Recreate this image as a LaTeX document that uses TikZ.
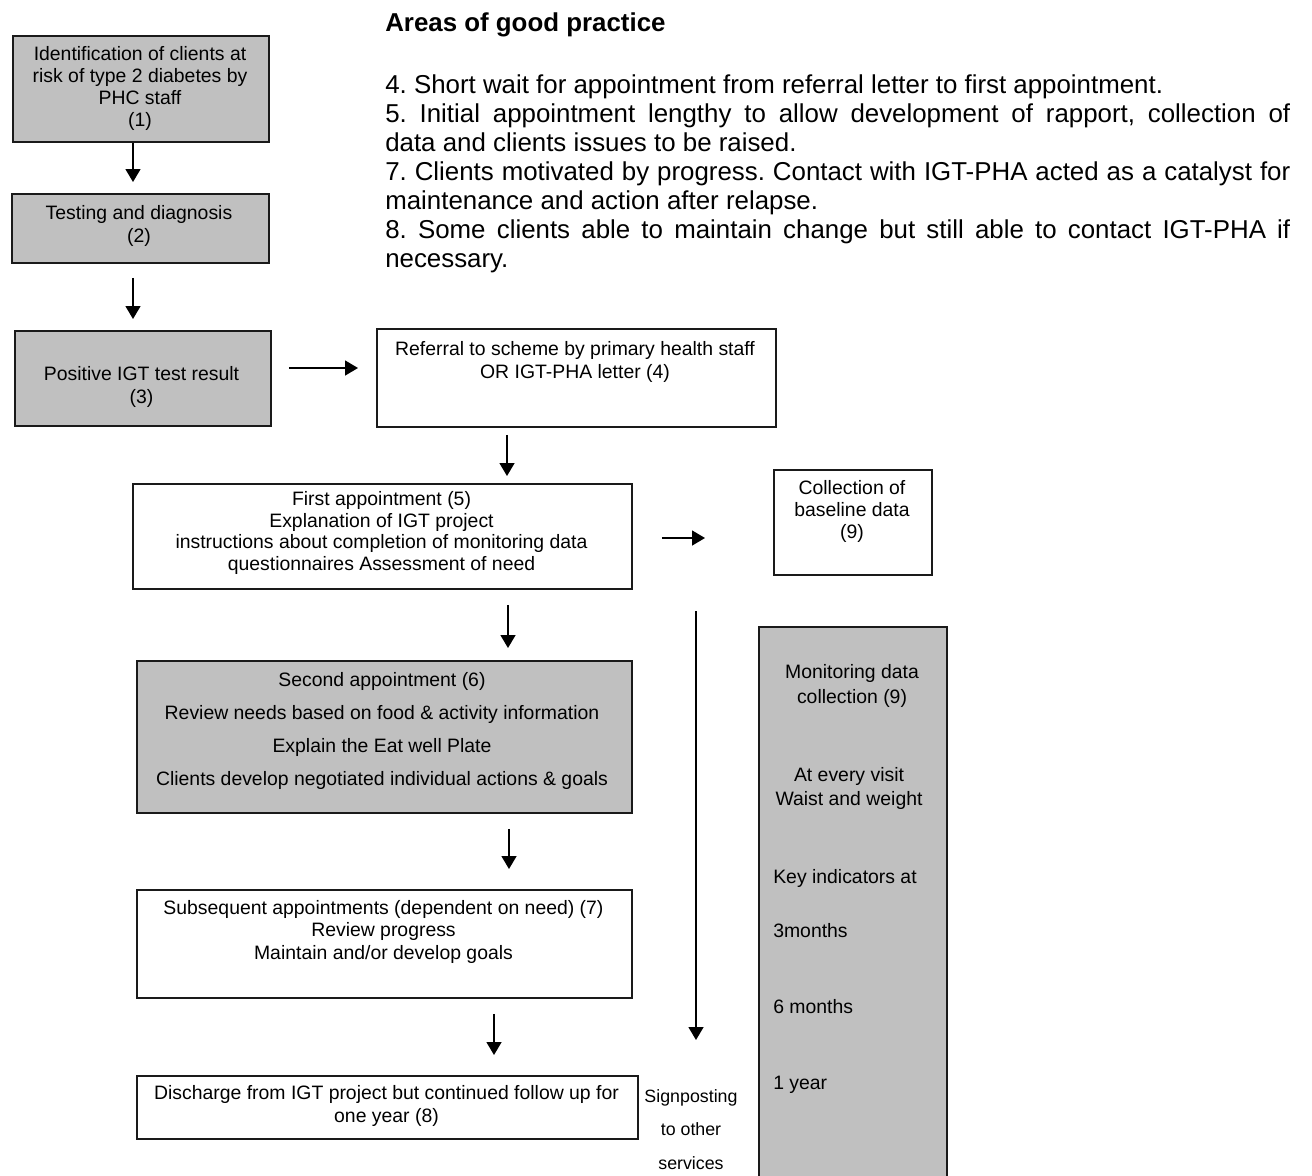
\documentclass[tikz,border=0pt]{standalone}
\usepackage{fontspec}
\setmainfont{Liberation Sans}
\usetikzlibrary{arrows.meta}
\definecolor{boxgray}{HTML}{C0C0C0}
\definecolor{edgecol}{HTML}{1A1A1A}
\frenchspacing
\begin{document}
\begin{tikzpicture}[x=0.75pt,y=-0.75pt,
  box/.style={draw=edgecol, line width=1.4pt, inner sep=0pt, anchor=north west},
  gbox/.style={box, fill=boxgray},
  txt/.style={align=center, inner sep=0pt},
  arr/.style={line width=1.1pt, draw=black, -{Triangle[width=11.25pt,length=9.75pt]}}]
\useasboundingbox (0,0) rectangle (1312,1175);
\fill[white] (0,0) rectangle (1312,1175);

% boxes
\node[gbox, minimum width=192pt, minimum height=79.5pt] (b1) at (12,35) {};
\node[gbox, minimum width=192.75pt, minimum height=51.75pt] (b2) at (11,193) {};
\node[gbox, minimum width=192pt, minimum height=71.25pt] (b3) at (14,330) {};
\node[box, minimum width=299.25pt, minimum height=73.5pt] (b4) at (376,328) {};
\node[box, minimum width=374.25pt, minimum height=78.75pt] (b5) at (132,483) {};
\node[box, minimum width=118.5pt, minimum height=78.75pt] (b6) at (773,469) {};
\node[gbox, minimum width=371.25pt, minimum height=114pt] (b7) at (136,660) {};
\node[box, minimum width=371.25pt, minimum height=81pt] (b8) at (136,889) {};
\node[box, minimum width=375.75pt, minimum height=47.25pt] (b9) at (136,1075) {};
\node[gbox, minimum width=141pt, minimum height=423pt] (b10) at (758,626) {};

% texts in boxes
\node[txt, font=\fontsize{14.55}{16.7}\selectfont] (t1) at (140,88.5)
  {Identification of clients at\\risk of type 2 diabetes by\\PHC staff\\(1)};
\node[txt, font=\fontsize{14.55}{17.25}\selectfont] (t2) at (139,225.5)
  {Testing and diagnosis\\(2)};
\node[txt, font=\fontsize{14.55}{17.25}\selectfont] (t3) at (141.5,386.5)
  {Positive IGT test result\\(3)};
\node[txt, font=\fontsize{14.55}{17.25}\selectfont] (t4) at (575,361.5)
  {Referral to scheme by primary health staff\\OR IGT-PHA letter (4)};
\node[txt, font=\fontsize{14.55}{16.1}\selectfont] (t5) at (381.5,533)
  {First appointment (5)\\Explanation of IGT project\\instructions about completion of monitoring data\\questionnaires Assessment of need};
\node[txt, font=\fontsize{14.55}{16.5}\selectfont] (t6) at (852,511)
  {Collection of\\baseline data\\(9)};
\node[txt, font=\fontsize{14.55}{24.75}\selectfont] (t7) at (382,731)
  {Second appointment (6)\\Review needs based on food \& activity information\\Explain the Eat well Plate\\Clients develop negotiated individual actions \& goals};
\node[txt, font=\fontsize{14.55}{16.9}\selectfont] (t8) at (383.5,931.5)
  {Subsequent appointments (dependent on need) (7)\\Review progress\\Maintain and/or develop goals};
\node[txt, font=\fontsize{14.55}{17.25}\selectfont] (t9) at (386.5,1105.5)
  {Discharge from IGT project but continued follow up for\\one year (8)};
\node[txt, font=\fontsize{14.55}{18.75}\selectfont] (t10a) at (852,685.5)
  {Monitoring data\\collection (9)};
\node[txt, font=\fontsize{14.55}{18}\selectfont] (t10b) at (849,788)
  {At every visit\\Waist and weight};
\node[txt, anchor=west, font=\fontsize{14.55}{17}\selectfont] (t10c) at (773,878) {Key indicators at};
\node[txt, anchor=west, font=\fontsize{14.55}{17}\selectfont] (t10d) at (773,931) {3months};
\node[txt, anchor=west, font=\fontsize{14.55}{17}\selectfont] (t10e) at (773,1007) {6 months};
\node[txt, anchor=west, font=\fontsize{14.55}{17}\selectfont] (t10f) at (773,1085) {1 year};
\node[txt, font=\fontsize{13.35}{25.1}\selectfont] (sign) at (691,1129.5)
  {Signposting\\to other\\services};

% heading and notes
\node[anchor=base west, inner sep=0pt, font=\fontsize{19.4}{21.75}\selectfont\bfseries] (title) at (385,31)
  {Areas of good practice};
\node[anchor=base west, inner sep=0pt, text width=678.75pt, align=justify,
  font=\fontsize{19.4}{21.75}\selectfont] (notes) at (385,93)
  {\frenchspacing\tolerance=9999\hyphenpenalty=10000\exhyphenpenalty=10000\parindent=0pt
  4. Short wait for appointment from referral letter to first appointment.\par
  5. Initial appointment lengthy to allow development of rapport, collection of\linebreak data and clients issues to be raised.\par
  7. Clients motivated by progress. Contact with IGT-PHA acted as a catalyst for\linebreak maintenance and action after relapse.\par
  8. Some clients able to maintain change but still able to contact IGT-PHA if\linebreak necessary.\par};

% connectors
\draw[arr, shorten >=8.25pt] (b1.south -| 133,0) -- (b2.north -| 133,0);
\draw[arr, shorten <=10.5pt, shorten >=8.25pt] (b2.south -| 133,0) -- (b3.north -| 133,0);
\draw[arr, shorten <=12.75pt, shorten >=13.5pt] (b3.east |- 0,368) -- (b4.west |- 0,368);
\draw[arr, shorten <=5.25pt, shorten >=5.25pt] (b4.south -| 507,0) -- (b5.north -| 507,0);
\draw[arr, shorten <=21.75pt, shorten >=51pt] (b5.east |- 0,538) -- (b6.west |- 0,538);
\draw[arr, shorten <=11.25pt, shorten >=9pt] (b5.south -| 508,0) -- (b7.north -| 508,0);
\draw[arr, shorten <=11.25pt, shorten >=15pt] (b7.south -| 509,0) -- (b8.north -| 509,0);
\draw[arr, shorten <=11.25pt, shorten >=15pt] (b8.south -| 494,0) -- (b9.north -| 494,0);
\coordinate (ls) at (696,611);
\coordinate (le) at (696,1040);
\draw[arr] (ls) -- (le);
\end{tikzpicture}
\end{document}
